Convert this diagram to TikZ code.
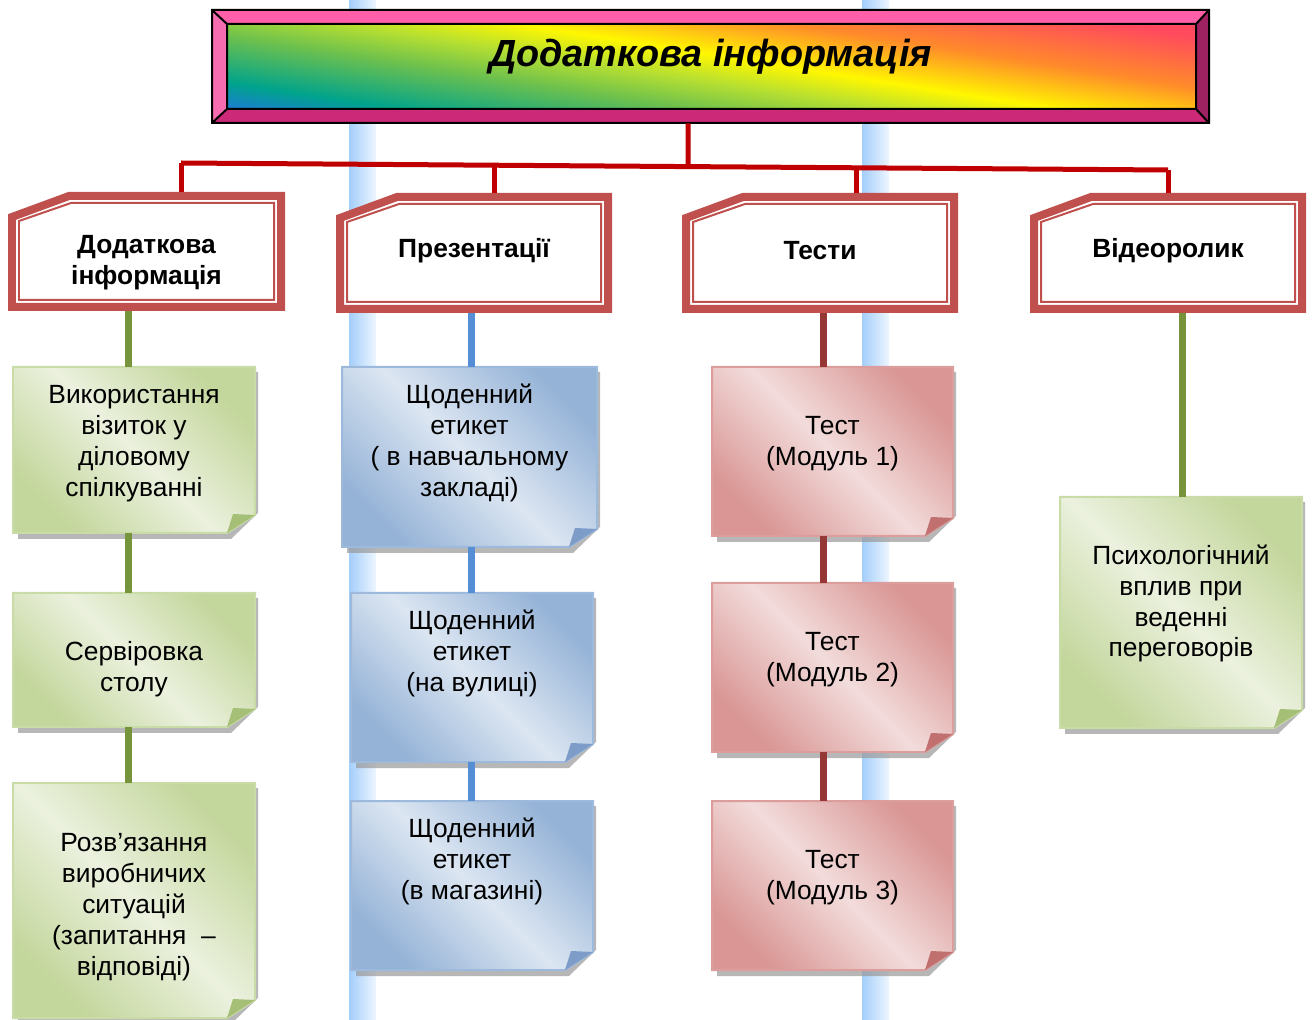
\documentclass[tikz,border=0pt]{standalone}
\usepackage{fontspec}
\setmainfont{Liberation Sans}
\definecolor{hdred}{HTML}{C0504D}
\definecolor{treered}{HTML}{C00000}
\definecolor{gline}{HTML}{77933C}
\definecolor{bline}{HTML}{558ED5}
\definecolor{rline}{HTML}{953735}
\definecolor{gL}{HTML}{EBF1DE}\definecolor{gD}{HTML}{C3D69B}\definecolor{gB}{HTML}{C9DBA6}\definecolor{gF}{HTML}{A5BF76}
\definecolor{bL}{HTML}{DCE6F2}\definecolor{bD}{HTML}{95B3D7}\definecolor{bB}{HTML}{9DBADC}\definecolor{bF}{HTML}{7D9CC8}
\definecolor{rL}{HTML}{F2DCDB}\definecolor{rD}{HTML}{D99694}\definecolor{rB}{HTML}{DC9E9C}\definecolor{rF}{HTML}{C0716F}
\definecolor{stA}{HTML}{A3CEFA}\definecolor{stB}{HTML}{EEF6FF}
\definecolor{rbA}{HTML}{1E78DC}\definecolor{rbB}{HTML}{00A38C}\definecolor{rbG}{HTML}{6CC04E}\definecolor{rbC}{HTML}{B8E030}
\definecolor{rbD}{HTML}{FFF700}\definecolor{rbE}{HTML}{FF8A2A}\definecolor{rbF}{HTML}{FF4A5E}
\definecolor{bvTop}{HTML}{FF5FA8}\definecolor{bvLeft}{HTML}{F56CB0}
\definecolor{bvBot}{HTML}{CC2A78}\definecolor{bvRight}{HTML}{9E2262}
\pgfdeclareverticalshading{rainbow}{100bp}{color(0bp)=(rbA); color(25bp)=(rbA); color(31bp)=(rbB);
  color(40.5bp)=(rbG); color(47bp)=(rbC); color(52.5bp)=(rbD); color(61.5bp)=(rbE); color(72bp)=(rbF); color(100bp)=(rbF)}
\tikzset{
  headtext/.style={align=center, inner sep=0pt, font=\bfseries\fontsize{15}{17.6}\selectfont},
  notetext/.style={align=center, inner sep=0pt, font=\fontsize{15}{17.6}\selectfont},
  link/.style={line width=0.14cm}
}
% header box with cut corner: name, x1, y1, x2, y2, text shift, text
\newcommand{\headbox}[7]{%
  \draw[hdred, line width=0.16cm, fill=white] (#2+4,#3+25) -- (#2+61,#3+4) -- (#4-4,#3+4) -- (#4-4,#5-4) -- (#2+4,#5-4) -- cycle;
  \draw[hdred, line width=0.04cm] (#2+11,#3+29) -- (#2+63,#3+11) -- (#4-11,#3+11) -- (#4-11,#5-11) -- (#2+11,#5-11) -- cycle;
  \node[inner sep=0pt, minimum width={(#4-#2)*0.02cm}, minimum height={(#5-#3)*0.02cm}] (#1) at ({(#2+#4)/2},{(#3+#5)/2}) {};
  \node[headtext] (#1t) at ({(#2+#4)/2},{(#3+#5)/2+#6}) {#7};
}
% note with folded corner: name, x1, y1, x2, y2, colour prefix, text shift, text
\newcommand{\notebox}[8]{%
  \fill[black!40, opacity=0.7] (#2+5,#3+5) -- (#4+3,#3+5) -- (#4+3,#5-20) -- (#4-24,#5+6) -- (#2+5,#5+6) -- cycle;
  \shadedraw[draw=#6B, line width=0.04cm, top color=#6D, bottom color=#6D, middle color=#6L, shading angle=-45]
    (#2,#3) -- (#4,#3) -- (#4,#5-18) -- (#4-28,#5) -- (#2,#5) -- cycle;
  \fill[#6F] (#4,#5-18) -- (#4-22,#5-19) -- (#4-28,#5) -- cycle;
  \node[inner sep=0pt, minimum width={(#4-#2)*0.02cm}, minimum height={(#5-#3)*0.02cm}] (#1) at ({(#2+#4)/2},{(#3+#5)/2}) {};
  \node[notetext] (#1t) at ({(#2+#4)/2},{(#3+#5)/2+#7}) {#8};
}
\begin{document}
\begin{tikzpicture}[x=0.02cm, y=-0.02cm]
  \useasboundingbox (0,0) rectangle (1313,1020);
  % stripes in the back
  \foreach \x in {349,862}
    \shade[left color=stA, middle color=stA!85, right color=stB] (\x,0) rectangle (\x+27,1020);

  % banner
  \fill[bvTop] (212,10) -- (1209,10) -- (1196,24) -- (227,24) -- cycle;
  \fill[bvBot] (212,123) -- (1209,123) -- (1196,109) -- (227,109) -- cycle;
  \fill[bvLeft] (212,10) -- (227,24) -- (227,109) -- (212,123) -- cycle;
  \fill[bvRight] (1209,10) -- (1196,24) -- (1196,109) -- (1209,123) -- cycle;
  \begin{scope}
    \clip (227,24) rectangle (1196,109);
    \begin{scope}[transform canvas={rotate around={-9:(711.5,66.5)}}]
      \shade[shading=rainbow] (151.5,-53.5) rectangle (1271.5,186.5);
    \end{scope}
  \end{scope}
  \draw[line width=0.04cm] (212,10) rectangle (1209,123) (227,24) rectangle (1196,109)
    (212,10) -- (227,24) (1209,10) -- (1196,24) (212,123) -- (227,109) (1209,123) -- (1196,109);
  \node[font=\bfseries\itshape\fontsize{21.5}{26}\selectfont, text height=0.35cm, text depth=0.35cm,
    minimum width=19.94cm, minimum height=2.26cm, inner sep=0pt] (top) at (710.5,66.5) {Додаткова інформація};

  \headbox{h1}{8}{192}{285}{311}{11}{Додаткова\\інформація}
  \headbox{h2}{336}{193}{612}{313}{-2}{Презентації}
  \headbox{h3}{682}{193}{958}{313}{-2}{Тести}
  \headbox{h4}{1030}{193}{1306}{313}{-2}{Відеоролик}

  \notebox{g1}{13}{367}{255}{533}{g}{-6}{Використання\\візиток у\\діловому\\спілкуванні}
  \notebox{g2}{13}{593}{255}{727}{g}{9}{Сервіровка\\столу}
  \notebox{g3}{13}{783}{255}{1018}{g}{7}{Розв’язання\\виробничих\\ситуацій\\(запитання~ –\\відповіді)}
  \notebox{b1}{342}{367}{597}{547}{b}{-14}{Щоденний\\етикет\\( в навчальному\\закладі)}
  \notebox{b2}{351}{593}{593}{762}{b}{-24}{Щоденний\\етикет\\(на вулиці)}
  \notebox{b3}{351}{801}{593}{970}{b}{-24}{Щоденний\\етикет\\(в магазині)}
  \notebox{r1}{712}{367}{953}{536}{r}{-8}{Тест\\(Модуль 1)}
  \notebox{r2}{712}{583}{953}{752}{r}{-8}{Тест\\(Модуль 2)}
  \notebox{r3}{712}{801}{953}{970}{r}{-8}{Тест\\(Модуль 3)}
  \notebox{v1}{1060}{497}{1302}{728}{g}{-9}{Психологічний\\вплив при\\веденні\\переговорів}

  % tree from the banner
  \coordinate (d1) at (181,163);
  \coordinate (d2) at (494,165.2);
  \coordinate (d3) at (856,167.8);
  \coordinate (d4) at (1168,170);
  \coordinate (d0) at (688,166.6);
  \draw[treered, line width=0.1cm] (top.south -| d0) -- (d0) (d1) -- (d4);
  \foreach \i in {1,...,4}
    \draw[treered, line width=0.1cm] (d\i) -- (h\i.north -| d\i);

  % columns
  \coordinate (k1) at (128,0);
  \coordinate (k2) at (471,0);
  \coordinate (k3) at (823,0);
  \coordinate (k4) at (1182,0);
  \draw[link, gline] (h1.south -| k1) -- (g1.north -| k1) (g1.south -| k1) -- (g2.north -| k1) (g2.south -| k1) -- (g3.north -| k1);
  \draw[link, bline] (h2.south -| k2) -- (b1.north -| k2) (b1.south -| k2) -- (b2.north -| k2) (b2.south -| k2) -- (b3.north -| k2);
  \draw[link, rline] (h3.south -| k3) -- (r1.north -| k3) (r1.south -| k3) -- (r2.north -| k3) (r2.south -| k3) -- (r3.north -| k3);
  \draw[link, gline] (h4.south -| k4) -- (v1.north -| k4);
\end{tikzpicture}
\end{document}
